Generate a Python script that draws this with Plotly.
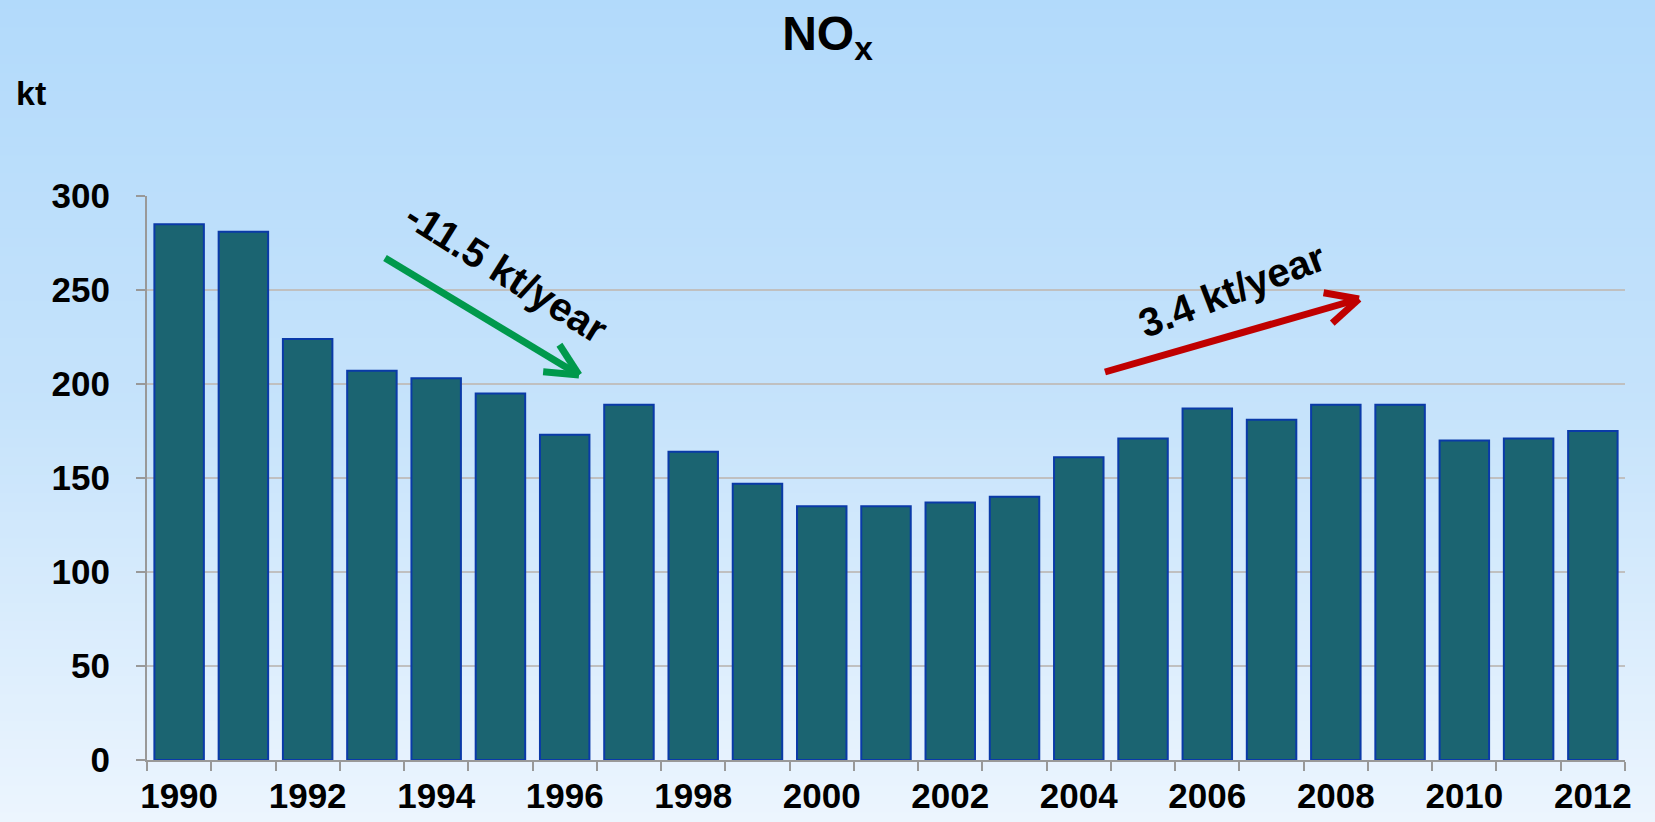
import plotly.graph_objects as go
import math

years = list(range(1990, 2013))
nox_kt = [285, 281, 224, 207, 203, 195, 173, 189, 164, 147, 135, 135, 137, 140,
          161, 171, 187, 181, 189, 189, 170, 171, 175]
label_years = [y for y in years if y % 2 == 0]
y_ticks = [0, 50, 100, 150, 200, 250, 300]

W, H = 1655, 822
ML, MR, MT, MB = 147, 30, 196, 62
PW, PH = W - ML - MR, H - MT - MB

FONT = "Liberation Sans, Arial, sans-serif"


def px(x):
    return (x - ML) / PW


def py(y):
    return (H - MB - y) / PH


def lerp(a, b, t):
    return a + (b - a) * t


shapes = []
# vertical background gradient
stops = [(0.0, (178, 218, 251)), (0.5, (198, 227, 251)), (1.0, (236, 245, 254))]
N = 90
for i in range(N):
    t = (i + 0.5) / N
    if t <= 0.5:
        c = [lerp(stops[0][1][k], stops[1][1][k], t / 0.5) for k in range(3)]
    else:
        c = [lerp(stops[1][1][k], stops[2][1][k], (t - 0.5) / 0.5) for k in range(3)]
    y0 = H * i / N
    y1 = H * (i + 1) / N + 1
    shapes.append(dict(type="rect", xref="paper", yref="paper", layer="below",
                       x0=px(0), x1=px(W), y0=py(y1), y1=py(y0), line_width=0,
                       fillcolor="rgb(%d,%d,%d)" % tuple(int(round(v)) for v in c)))


def arrow(x0, y0, x1, y1, color, width=7, head=36, ang=26):
    d = math.atan2(y1 - y0, x1 - x0)
    out = []
    out.append(dict(type="line", xref="paper", yref="paper", x0=px(x0), y0=py(y0),
                    x1=px(x1), y1=py(y1), line=dict(color=color, width=width)))
    for s in (-1, 1):
        a = d + math.pi + s * math.radians(ang)
        hx, hy = x1 + head * math.cos(a), y1 + head * math.sin(a)
        out.append(dict(type="path", xref="paper", yref="paper",
                        path="M %f,%f L %f,%f" % (px(hx), py(hy), px(x1), py(y1)),
                        line=dict(color=color, width=width)))
    return out


shapes += arrow(385, 258, 579, 375, "#00994c")
shapes += arrow(1105, 372, 1359, 299, "#c00000")

fig = go.Figure()
fig.add_trace(go.Bar(
    x=years, y=nox_kt, width=0.77,
    marker=dict(color="#1b6471", line=dict(color="#0a3aa8", width=2)),
))

fig.update_layout(
    width=W, height=H,
    margin=dict(l=ML, r=MR, t=MT, b=MB, autoexpand=False),
    paper_bgcolor="#ecf5fe",
    plot_bgcolor="rgba(0,0,0,0)",
    showlegend=False,
    shapes=shapes,
    font=dict(family=FONT, color="black"),
    title=dict(text="<b>NO<sub>x</sub></b>", x=0.5, xref="container", xanchor="center",
               y=1 - 33 / H, yref="container", yanchor="middle",
               font=dict(size=48, family=FONT)),
    bargap=0.23,
)

fig.update_xaxes(
    range=[years[0] - 0.5, years[-1] + 0.5],
    tickmode="array", tickvals=label_years,
    ticktext=["<b>%d</b>" % y for y in label_years],
    ticks="", tickfont=dict(size=35, family=FONT),
    showgrid=False, zeroline=False, automargin=False,
    showline=True, linecolor="#999999", linewidth=2,
    minor=dict(tickmode="array", tickvals=[y - 0.5 for y in years] + [years[-1] + 0.5],
               ticks="outside", ticklen=9, tickcolor="#999999", tickwidth=2, showgrid=False),
    ticklabelstandoff=4,
)
fig.update_yaxes(
    range=[0, 300], tickmode="array", tickvals=y_ticks,
    ticktext=["<b>%d</b>" % v for v in y_ticks],
    ticks="outside", ticklen=9, tickcolor="#999999", tickwidth=2,
    tickfont=dict(size=35, family=FONT), automargin=False,
    showgrid=True, gridcolor="#c0c0c0", gridwidth=2,
    zeroline=False, showline=True, linecolor="#999999", linewidth=2,
    ticklabelstandoff=19,
)

fig.add_annotation(text="<b>kt</b>", xref="paper", yref="paper", x=px(14), y=py(93),
                   xanchor="left", yanchor="middle", showarrow=False,
                   font=dict(size=34, family=FONT))
fig.add_annotation(text="<b>-11.5 kt/year</b>", xref="paper", yref="paper",
                   x=px(506), y=py(272), xanchor="center", yanchor="middle",
                   textangle=32, showarrow=False, font=dict(size=40, family=FONT))
fig.add_annotation(text="<b>3.4 kt/year</b>", xref="paper", yref="paper",
                   x=px(1232), y=py(290), xanchor="center", yanchor="middle",
                   textangle=-21, showarrow=False, font=dict(size=40, family=FONT))

fig.write_html("out.html")
